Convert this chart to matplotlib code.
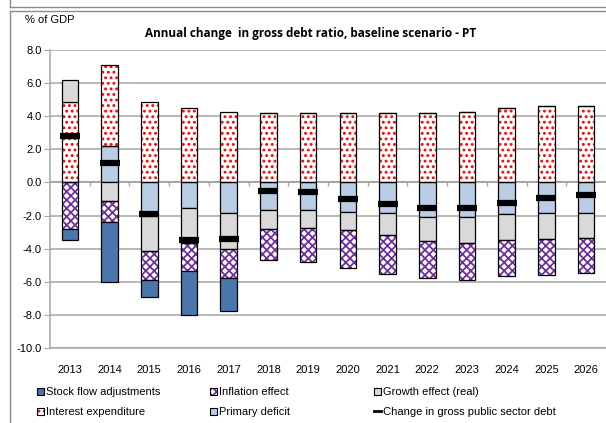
import matplotlib
matplotlib.use("Agg")
import matplotlib.pyplot as plt
import numpy as np
from matplotlib import font_manager
from matplotlib.patches import Patch
from matplotlib.lines import Line2D

years = [str(y) for y in range(2013, 2027)]

# components of the annual change in the debt ratio (% of GDP)
primary_deficit = [0.00, 2.21, -2.05, -1.54, -1.84, -1.68, -1.68, -1.78, -1.84, -2.08, -2.08, -1.90, -1.84, -1.84]
interest_exp = [4.85, 4.91, 4.88, 4.48, 4.26, 4.18, 4.18, 4.18, 4.18, 4.18, 4.26, 4.48, 4.64, 4.64]
growth_effect = [1.35, -1.13, -2.11, -2.11, -2.18, -1.11, -1.05, -1.07, -1.31, -1.46, -1.56, -1.55, -1.55, -1.49]
inflation_effect = [-2.79, -1.23, -1.72, -1.70, -1.78, -1.92, -2.08, -2.34, -2.37, -2.26, -2.26, -2.21, -2.19, -2.16]
stock_flow = [-0.66, -3.68, -1.01, -2.63, -1.94, 0, 0, 0, 0, 0, 0, 0, 0, 0]
debt_change = [2.80, 1.15, -1.92, -3.45, -3.39, -0.51, -0.59, -0.99, -1.29, -1.52, -1.52, -1.23, -0.91, -0.75]

available = {f.name for f in font_manager.fontManager.ttflist}
narrow = "Liberation Sans Narrow" if "Liberation Sans Narrow" in available else "Liberation Sans"
plt.rcParams["font.family"] = [narrow, "DejaVu Sans"]
plt.rcParams["hatch.linewidth"] = 1.3

fig = plt.figure(figsize=(6.06, 4.23), dpi=100)
ax = fig.add_axes([50 / 606, 1 - 348 / 423, 556 / 606, 298 / 423])

x = np.arange(len(years))
width = 0.42
grid_col = "#a6a6a6"

# series stacked outward from zero in this order
series = [
    ("Primary deficit", primary_deficit, dict(facecolor="#b9cde5")),
    ("Interest expenditure", interest_exp, dict(facecolor="white", hatch="...", hcolor="#ff0000")),
    ("Growth effect (real)", growth_effect, dict(facecolor="#d9d9d9")),
    ("Inflation effect", inflation_effect, dict(facecolor="white", hatch="xxxx", hcolor="#7030a0")),
    ("Stock flow adjustments", stock_flow, dict(facecolor="#4a76ac")),
]

pos = np.zeros(len(years))
neg = np.zeros(len(years))
handles = {}
for name, vals, st in series:
    v = np.array(vals)
    bottom = np.where(v >= 0, pos, neg)
    if "hatch" in st:
        ax.bar(x, v, width, bottom=bottom, color="white", edgecolor=st["hcolor"],
               hatch=st["hatch"], linewidth=0, zorder=2)
        ax.bar(x, v, width, bottom=bottom, facecolor="none", edgecolor="black",
               linewidth=0.9, zorder=3)
        handles[name] = (Patch(facecolor="white", edgecolor=st["hcolor"], hatch=st["hatch"], linewidth=0),
                         Patch(facecolor="none", edgecolor="black", linewidth=0.8))
    else:
        ax.bar(x, v, width, bottom=bottom, color=st["facecolor"], edgecolor="black",
               linewidth=0.9, zorder=3)
        handles[name] = Patch(facecolor=st["facecolor"], edgecolor="black", linewidth=0.8)
    pos += np.clip(v, 0, None)
    neg += np.clip(v, None, 0)

ax.plot(x, debt_change, ls="none", marker="_", ms=15, mew=4.5, color="black", zorder=5)
handles["Change in gross public sector debt"] = Line2D([], [], color="black", lw=2)

ax.set_xlim(-0.5, len(years) - 0.5)
ax.set_ylim(-10, 8)
ax.set_yticks(np.arange(-10, 8.1, 2))
ax.set_yticklabels([f"{t:.1f}" for t in np.arange(-10, 8.1, 2)])
ax.yaxis.grid(True, color=grid_col, lw=1.1, zorder=0)
ax.set_axisbelow(True)
ax.axhline(0, color=grid_col, lw=1.3, zorder=1)
ax.plot(x[:-1] + 0.5, np.zeros(len(years) - 1), ls="none", marker=3, ms=3,
        color=grid_col, zorder=1)

ax.set_xticks(x)
ax.set_xticklabels(years)
ax.tick_params(axis="x", length=0, pad=12, labelsize=8)
ax.tick_params(axis="y", length=4, color=grid_col, labelsize=8, pad=2)
for s in ["top", "right"]:
    ax.spines[s].set_visible(False)
ax.spines["left"].set_color(grid_col)
ax.spines["bottom"].set_color(grid_col)
ax.spines["left"].set_linewidth(1.1)
ax.spines["bottom"].set_linewidth(1.1)

fig.text(0.512, 1 - 33 / 423, "Annual change  in gross debt ratio, baseline scenario - PT",
         ha="center", va="center", fontsize=8.5, fontweight="bold",
         family=["Open Sans", "DejaVu Sans"])
fig.text(25 / 606, 1 - 20 / 423, "% of GDP", ha="left", va="center", fontsize=8)

# outer frame
frame_col = "#8c8c8c"
fig.add_artist(Line2D([10 / 606, 1], [1 - 7 / 423] * 2, color=frame_col, lw=1))
fig.add_artist(Line2D([10 / 606, 1], [1 - 11 / 423] * 2, color=frame_col, lw=1))
fig.add_artist(Line2D([10 / 606] * 2, [0, 1 - 11 / 423], color=frame_col, lw=1))
fig.add_artist(Line2D([10 / 606] * 2, [1 - 7 / 423, 1], color=frame_col, lw=1))

# legend, three columns of two rows
columns = [
    (37, ["Stock flow adjustments", "Interest expenditure"]),
    (210, ["Inflation effect", "Primary deficit"]),
    (374, ["Growth effect (real)", "Change in gross public sector debt"]),
]
for xpix, names in columns:
    fig.legend([handles[n] for n in names], names, loc="upper left",
               bbox_to_anchor=(xpix / 606, 1 - 387 / 423), frameon=False,
               fontsize=8, handlelength=0.6, handleheight=0.6, handletextpad=0.2,
               labelspacing=0.9, borderaxespad=0, borderpad=0)

fig.savefig("out.png", dpi=100)
